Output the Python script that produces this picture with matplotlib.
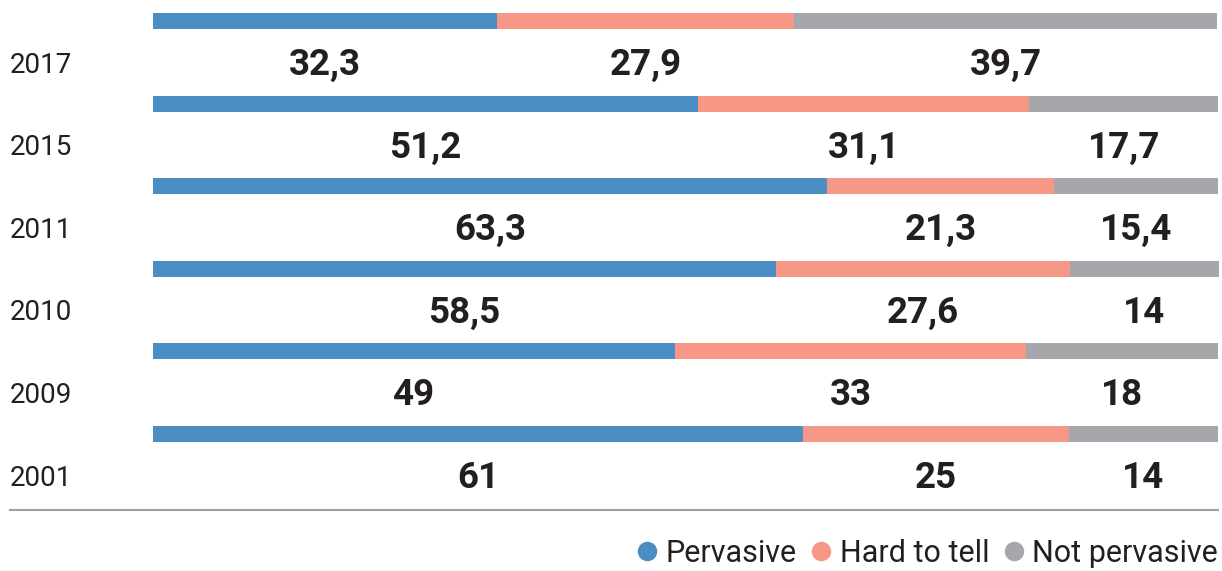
import numpy as np
import matplotlib.pyplot as plt
import matplotlib.transforms as mtransforms

# данные
years = ["2017", "2015", "2011", "2010", "2009", "2001"]
pervasive = [32.3, 51.2, 63.3, 58.5, 49, 61]
hard_to_tell = [27.9, 31.1, 21.3, 27.6, 33, 25]
not_pervasive = [39.7, 17.7, 15.4, 14, 18, 14]
series_names = ["Pervasive", "Hard to tell", "Not pervasive"]
colors = ["#4A8EC3", "#F79887", "#A7A7AB"]
text_color = "#231F20"

plt.rcParams['font.family'] = ['Roboto', 'DejaVu Sans']

W, H = 1222, 571
fig = plt.figure(figsize=(W / 100, H / 100), dpi=100)
ax = fig.add_axes([0, 0, 1, 1])

# пиксельная разметка: ось x 0..100 -> 153..1218 px, шаг строк 82.6 px
px_per_unit = (1218 - 153) / 100
row = 82.6
top = 21
ax.set_xlim(-153 / px_per_unit, (W - 153) / px_per_unit)
ax.set_ylim((H - top) / row, -top / row)
ax.axis("off")

y = np.arange(len(years))
bar_h = 16 / row
label_dy = 44 / row

data = [pervasive, hard_to_tell, not_pervasive]
left = np.zeros(len(years))
for vals, name, c in zip(data, series_names, colors):
    vals = np.array(vals, dtype=float)
    ax.barh(y, vals, left=left, height=bar_h, color=c, label=name)
    for yi, l, v in zip(y, left, vals):
        txt = f"{v:g}".replace(".", ",")
        ax.text(l + v / 2, yi + label_dy, txt, ha="center", va="center",
                fontsize=26.5, fontweight="bold", color=text_color)
    left += vals

trans = mtransforms.blended_transform_factory(ax.transAxes, ax.transData)
for yi, yr in zip(y, years):
    ax.text(10 / W, yi + label_dy, yr, transform=trans, ha="left",
            va="center", fontsize=20, color=text_color)

ax.axhline((510 - top) / row, xmin=10 / W, xmax=1218 / W, color="#A0A0A0",
           lw=1.5)

handles = [plt.Line2D([], [], marker="o", ls="", color=c, markersize=13)
           for c in colors]
fig.legend(handles, series_names, loc="lower right", ncol=3, frameon=False,
           bbox_to_anchor=(0.999, 0.0), fontsize=22, handletextpad=0.15,
           columnspacing=0.35, handlelength=0.9, labelcolor=text_color,
           borderaxespad=0.0, borderpad=0.1)

fig.savefig("out.png", dpi=100)
